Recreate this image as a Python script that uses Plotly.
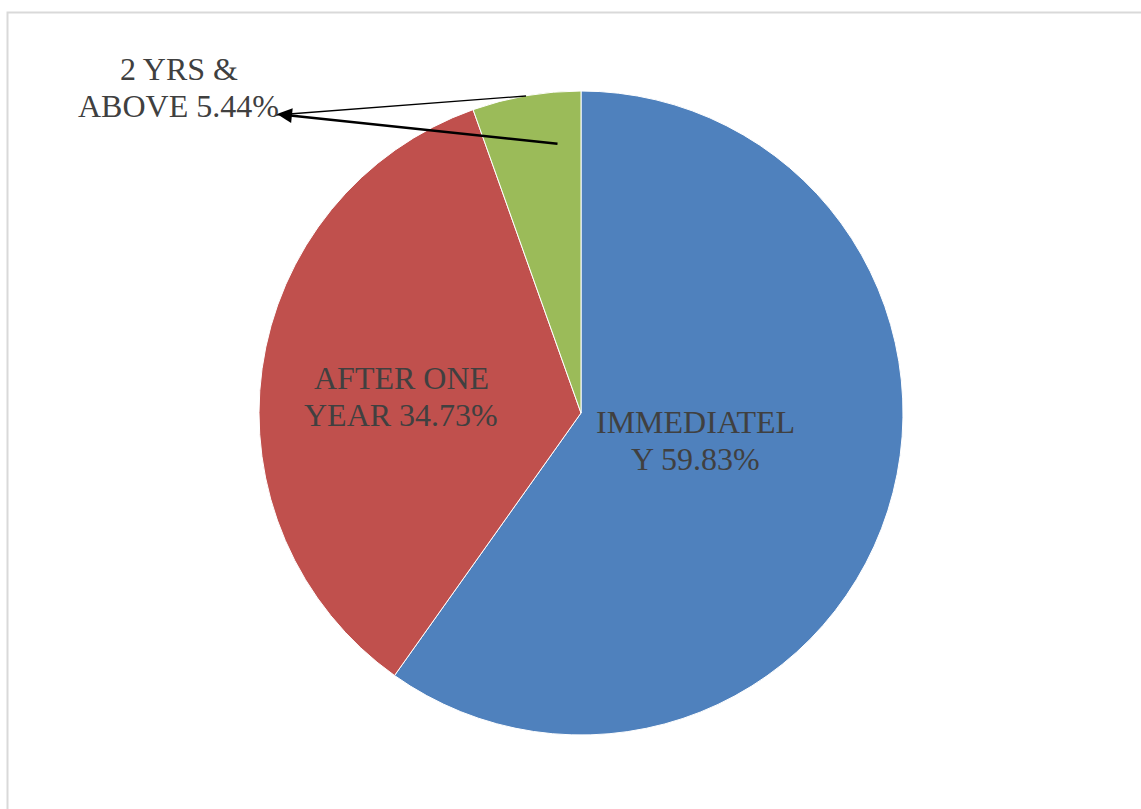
import plotly.graph_objects as go

# Data
categories = ["IMMEDIATELY", "AFTER ONE YEAR", "2 YRS & ABOVE"]
shares = [59.83, 34.73, 5.44]
label_lines = [["IMMEDIATEL", "Y"], ["AFTER ONE", "YEAR"], ["2 YRS &", "ABOVE"]]
colors = ["#4F81BD", "#C0504D", "#9BBB59"]

W, H = 1141, 809
cx, cy, r = 581, 413, 322
FONT = "Liberation Serif"

fig = go.Figure()
fig.add_trace(go.Pie(
    labels=categories,
    values=shares,
    sort=False,
    direction="clockwise",
    rotation=0,
    marker=dict(colors=colors, line=dict(color="white", width=1)),
    textinfo="none",
    hoverinfo="skip",
    showlegend=False,
    domain=dict(x=[(cx - r) / W, (cx + r) / W], y=[1 - (cy + r) / H, 1 - (cy - r) / H]),
))

# label positions (pixel coordinates: centre x, first-line y, line spacing)
label_pos = [(695.5, 422, 37), (401, 378, 37), (178.5, 69, 37)]
for lines, val, (lx, ly, dy) in zip(label_lines, shares, label_pos):
    texts = lines[:-1] + [f"{lines[-1]} {val:.2f}%"]
    for i, t in enumerate(texts):
        fig.add_annotation(
            x=lx, y=ly + i * dy, xref="x", yref="y",
            text=t,
            showarrow=False,
            font=dict(family=FONT, size=32, color="#404040"),
            align="center", xanchor="center", yanchor="middle",
        )

# leader line and arrow for small slice
fig.add_shape(type="line", x0=276, y0=115, x1=526, y1=96, xref="x", yref="y",
              line=dict(color="black", width=1.3))
fig.add_annotation(x=277, y=114, xref="x", yref="y", text="", showarrow=True,
                   ax=559, ay=144, axref="x", ayref="y",
                   arrowhead=2, arrowsize=1.2, arrowwidth=2.5, arrowcolor="black")

# chart border
fig.add_shape(type="rect", x0=7.5, y0=12.5, x1=1150, y1=820, xref="x", yref="y",
              line=dict(color="#D9D9D9", width=2), layer="below")

fig.update_layout(
    width=W, height=H,
    margin=dict(l=0, r=0, t=0, b=0),
    paper_bgcolor="white", plot_bgcolor="rgba(0,0,0,0)",
    font=dict(family=FONT),
    xaxis=dict(range=[0, W], visible=False, domain=[0, 1], fixedrange=True),
    yaxis=dict(range=[H, 0], visible=False, domain=[0, 1], fixedrange=True),
    showlegend=False,
)

fig.write_html("out.html")
